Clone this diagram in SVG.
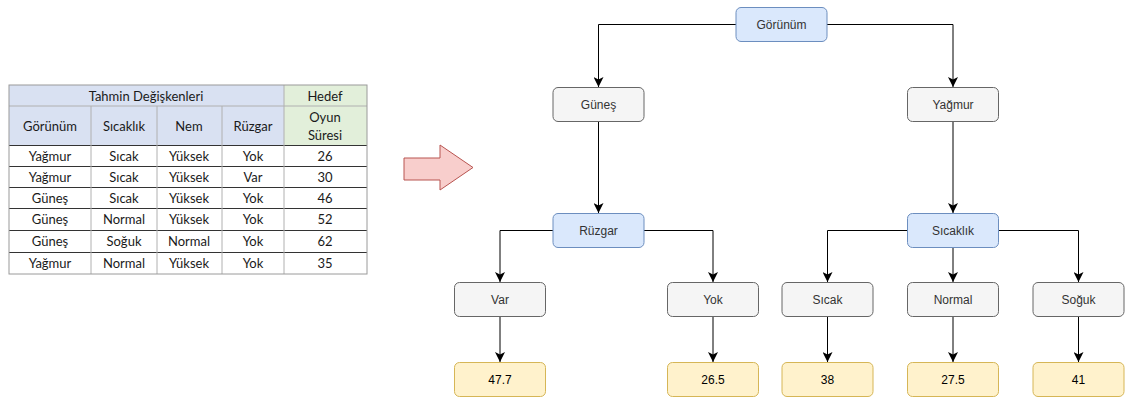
<svg xmlns="http://www.w3.org/2000/svg" width="1131" height="398" viewBox="0 0 1131 398">
<defs>
<style>
.tt{font-family:Lato,"Open Sans",sans-serif;font-size:13px;fill:#1a1a1a;text-anchor:middle;dominant-baseline:central}
.blue{fill:#dae8fc;stroke:#6c8ebf;stroke-width:1}
.gray{fill:#f5f5f5;stroke:#666666;stroke-width:1}
.yel{fill:#fff2cc;stroke:#d6b656;stroke-width:1}
.lbl{font-family:"Liberation Sans",Arial,sans-serif;font-size:12px;text-anchor:middle;dominant-baseline:central;fill:#333333}
.lblk{font-family:"Liberation Sans",Arial,sans-serif;font-size:12px;text-anchor:middle;dominant-baseline:central;fill:#000000}
.edge{fill:none;stroke:#000000;stroke-width:1;marker-end:url(#ah)}
.gl{stroke:#b0b0b0;stroke-width:1}
.dl{stroke:#333333;stroke-width:1}
</style>
<marker id="ah" viewBox="0 0 10 10" refX="10" refY="5" markerWidth="10" markerHeight="10" markerUnits="userSpaceOnUse" orient="auto">
<path d="M0,0 L10,5 L0,10 L2.5,5 Z" fill="#000"/>
</marker>
</defs>
<rect width="1131" height="398" fill="#ffffff"/>

<g id="table">
<rect x="9" y="85" width="275" height="60" fill="#d9e1f2"/>
<rect x="284" y="85" width="83" height="60" fill="#e2efda"/>
<line class="gl" x1="9" y1="106" x2="367" y2="106"/>
<line class="dl" x1="9" y1="145.5" x2="367" y2="145.5"/>
<line class="dl" x1="9" y1="166.5" x2="367" y2="166.5"/>
<line class="dl" x1="9" y1="187.5" x2="367" y2="187.5"/>
<line class="dl" x1="9" y1="208.5" x2="367" y2="208.5"/>
<line class="dl" x1="9" y1="230.5" x2="367" y2="230.5"/>
<line class="dl" x1="9" y1="252.5" x2="367" y2="252.5"/>
<line class="gl" x1="91" y1="106" x2="91" y2="274"/>
<line class="gl" x1="157" y1="106" x2="157" y2="274"/>
<line class="gl" x1="222" y1="106" x2="222" y2="274"/>
<line class="gl" x1="284" y1="85" x2="284" y2="274"/>
<rect x="9" y="85" width="358" height="189" fill="none" stroke="#9a9a9a"/>
<text class="tt" x="146" y="96">Tahmin Değişkenleri</text>
<text class="tt" x="325" y="96">Hedef</text>
<text class="tt" x="50" y="126">Görünüm</text>
<text class="tt" x="124" y="126">Sıcaklık</text>
<text class="tt" x="189" y="126">Nem</text>
<text class="tt" x="253" y="126">Rüzgar</text>
<text class="tt" x="325" y="117">Oyun</text>
<text class="tt" x="325" y="135">Süresi</text>
<text class="tt" x="50" y="156">Yağmur</text><text class="tt" x="124" y="156">Sıcak</text><text class="tt" x="189" y="156">Yüksek</text><text class="tt" x="253" y="156">Yok</text><text class="tt" x="325" y="156">26</text>
<text class="tt" x="50" y="177">Yağmur</text><text class="tt" x="124" y="177">Sıcak</text><text class="tt" x="189" y="177">Yüksek</text><text class="tt" x="253" y="177">Var</text><text class="tt" x="325" y="177">30</text>
<text class="tt" x="50" y="198">Güneş</text><text class="tt" x="124" y="198">Sıcak</text><text class="tt" x="189" y="198">Yüksek</text><text class="tt" x="253" y="198">Yok</text><text class="tt" x="325" y="198">46</text>
<text class="tt" x="50" y="219">Güneş</text><text class="tt" x="124" y="219">Normal</text><text class="tt" x="189" y="219">Yüksek</text><text class="tt" x="253" y="219">Yok</text><text class="tt" x="325" y="219">52</text>
<text class="tt" x="50" y="241">Güneş</text><text class="tt" x="124" y="241">Soğuk</text><text class="tt" x="189" y="241">Normal</text><text class="tt" x="253" y="241">Yok</text><text class="tt" x="325" y="241">62</text>
<text class="tt" x="50" y="263">Yağmur</text><text class="tt" x="124" y="263">Normal</text><text class="tt" x="189" y="263">Yüksek</text><text class="tt" x="253" y="263">Yok</text><text class="tt" x="325" y="263">35</text>
</g>

<g id="bigArrow">
<path d="M404,158 L440,158 L440,145 L473,167.5 L440,190 L440,180 L404,180 Z" fill="#f8cecc" stroke="#b85450" stroke-width="1"/>
</g>

<g id="connectors">
<path class="edge" d="M736,24.5 L598.5,24.5 L598.5,87"/>
<path class="edge" d="M827,24.5 L953,24.5 L953,87"/>
<path class="edge" d="M598.5,122 L598.5,213"/>
<path class="edge" d="M953,122 L953,213"/>
<path class="edge" d="M553,230.5 L500,230.5 L500,282"/>
<path class="edge" d="M644,230.5 L713,230.5 L713,282"/>
<path class="edge" d="M907,230.5 L827.5,230.5 L827.5,282"/>
<path class="edge" d="M953,248 L953,282"/>
<path class="edge" d="M999,230.5 L1078.5,230.5 L1078.5,282"/>
<path class="edge" d="M500,316 L500,362"/>
<path class="edge" d="M713,316 L713,362"/>
<path class="edge" d="M827.5,316 L827.5,362"/>
<path class="edge" d="M953,316 L953,362"/>
<path class="edge" d="M1078.5,316 L1078.5,362"/>
</g>

<g id="n-gorunum"><rect class="blue" x="736" y="7.5" width="91" height="34" rx="5"/><text class="lbl" x="781.5" y="24.5">Görünüm</text></g>
<g id="n-gunes"><rect class="gray" x="553" y="87.5" width="91" height="34" rx="5"/><text class="lbl" x="598.5" y="104.5">Güneş</text></g>
<g id="n-yagmur"><rect class="gray" x="907.5" y="87.5" width="91" height="34" rx="5"/><text class="lbl" x="953" y="104.5">Yağmur</text></g>
<g id="n-ruzgar"><rect class="blue" x="553" y="213.5" width="91" height="34" rx="5"/><text class="lbl" x="598.5" y="230.5">Rüzgar</text></g>
<g id="n-sicaklik"><rect class="blue" x="907.5" y="213.5" width="91" height="34" rx="5"/><text class="lbl" x="953" y="230.5">Sıcaklık</text></g>
<g id="n-var"><rect class="gray" x="454.5" y="282.5" width="91" height="34" rx="5"/><text class="lbl" x="500" y="299.5">Var</text></g>
<g id="n-yok"><rect class="gray" x="667.5" y="282.5" width="91" height="34" rx="5"/><text class="lbl" x="713" y="299.5">Yok</text></g>
<g id="n-sicak"><rect class="gray" x="782" y="282.5" width="91" height="34" rx="5"/><text class="lbl" x="827.5" y="299.5">Sıcak</text></g>
<g id="n-normal"><rect class="gray" x="907.5" y="282.5" width="91" height="34" rx="5"/><text class="lbl" x="953" y="299.5">Normal</text></g>
<g id="n-soguk"><rect class="gray" x="1033" y="282.5" width="91" height="34" rx="5"/><text class="lbl" x="1078.5" y="299.5">Soğuk</text></g>
<g id="l-477"><rect class="yel" x="454.5" y="362.5" width="91" height="34" rx="5"/><text class="lblk" x="500" y="379.5">47.7</text></g>
<g id="l-265"><rect class="yel" x="667.5" y="362.5" width="91" height="34" rx="5"/><text class="lblk" x="713" y="379.5">26.5</text></g>
<g id="l-38"><rect class="yel" x="782" y="362.5" width="91" height="34" rx="5"/><text class="lblk" x="827.5" y="379.5">38</text></g>
<g id="l-275"><rect class="yel" x="907.5" y="362.5" width="91" height="34" rx="5"/><text class="lblk" x="953" y="379.5">27.5</text></g>
<g id="l-41"><rect class="yel" x="1033" y="362.5" width="91" height="34" rx="5"/><text class="lblk" x="1078.5" y="379.5">41</text></g>
</svg>
